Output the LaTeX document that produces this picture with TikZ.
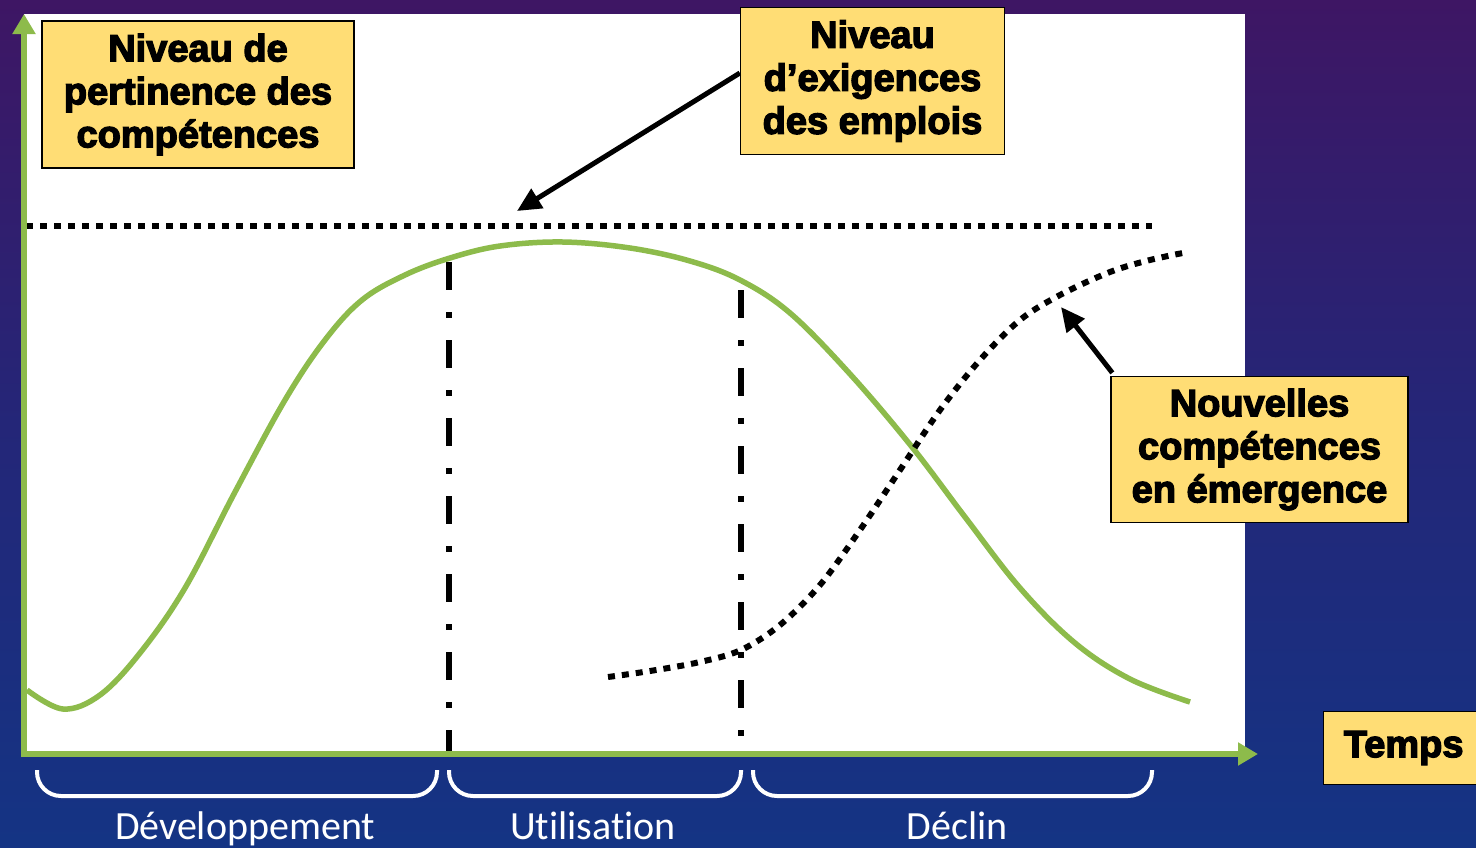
\documentclass[tikz,border=0pt]{standalone}
\usepackage{fontspec}
\newfontfamily\boxfont[FakeBold=3.5]{Liberation Sans Bold}
\newfontfamily\labfont[Ligatures={NoCommon}]{Carlito}
\usetikzlibrary{arrows.meta}
\definecolor{axgreen}{RGB}{141,187,75}
\definecolor{boxfill}{RGB}{255,221,117}
\definecolor{bgtop}{RGB}{62,22,100}
\definecolor{bgmid}{RGB}{36,38,120}
\definecolor{bgbot}{RGB}{20,52,132}
\begin{document}
\begin{tikzpicture}[x=1pt,y=-1pt,
  callout/.style={draw=black, line width=1.3pt, fill=boxfill, align=center,
    font=\boxfont\fontsize{38}{43}\selectfont, inner sep=0pt},
  axis/.style={draw=axgreen, line width=6pt, -{Triangle[length=20pt,width=22pt]}},
  curve/.style={draw=axgreen, line width=5.5pt},
  dotline/.style={draw=black, line width=6pt, dash pattern=on 7pt off 7pt},
  phase/.style={draw=black, line width=6pt, dash pattern=on 28pt off 22pt on 6pt off 22pt},
  pointer/.style={draw=black, line width=5pt, -{Triangle[length=24pt,width=22pt]}},
  bracket/.style={draw=white, line width=4pt, rounded corners=24pt},
  lab/.style={anchor=base, text=white, font=\labfont\fontsize{40}{48}\selectfont, inner sep=0pt}
]
\useasboundingbox (0,0) rectangle (1476,847);
% background
\shade[top color=bgtop, bottom color=bgbot, middle color=bgmid] (0,0) rectangle (1476,847);
% plot area
\fill[white] (24,14) rectangle (1245,754);

% phase separators
\draw[phase] (449,262) -- (449,754);
\draw[phase] (741,290) -- (741,754);

% reference level
\draw[dotline] (26,226) -- (1152,226);

% main curve
\draw[curve] plot[smooth, tension=0.6] coordinates {
 (27,690) (63,709) (100,695) (140,653) (185,588) (235,492) (285,400)
 (325,340) (362,300) (405,275) (450,258) (500,246) (563,242) (630,248)
 (690,261) (740,280) (790,313) (850,374) (912,447) (965,517) (1020,588)
 (1075,643) (1130,679) (1190,702)};

% emerging competences
\draw[dotline] plot[smooth, tension=0.55] coordinates {
 (608,677) (650,671) (700,662) (741,650) (780,625) (820,585) (860,530)
 (900,470) (940,410) (980,360) (1020,320) (1060,295) (1110,272) (1150,260) (1188,252)};

% axes
\draw[axis] (24,757) -- (24,14);
\draw[axis] (21,754) -- (1258,754);

% boxes
\node[callout, minimum width=312pt, minimum height=147pt] (pert) at (198,94.5)
  {Niveau de\\pertinence des\\compétences};
\node[callout, minimum width=264pt, minimum height=147pt] (exig) at (872.5,81)
  {Niveau\\d’exigences\\des emplois};
\node[callout, minimum width=297pt, minimum height=146pt] (nouv) at (1259.5,449.5)
  {Nouvelles\\compétences\\en émergence};
\node[callout, minimum width=168pt, minimum height=73pt, anchor=west] (temps) at (1323,748)
  {\hspace*{6pt}Temps\hspace*{14pt}};

% pointers
\coordinate (exigtip) at (517,211);
\coordinate (nouvtip) at (1061,307);
\draw[pointer] ([yshift=8pt]exig.west) -- (exigtip);
\draw[pointer] ([xshift=2pt,yshift=3pt]nouv.north west) -- (nouvtip);

% brackets
\draw[bracket] (37,770) -- (37,796) -- (437,796) -- (437,770);
\draw[bracket] (449,770) -- (449,796) -- (741,796) -- (741,770);
\draw[bracket] (753,770) -- (753,796) -- (1152,796) -- (1152,770);

% phase labels
\node[lab] (ldev) at (245,839) {Développement};
\node[lab] (luti) at (593,839) {Utilisation};
\node[lab] (ldec) at (957,839) {Déclin};
\end{tikzpicture}
\end{document}
